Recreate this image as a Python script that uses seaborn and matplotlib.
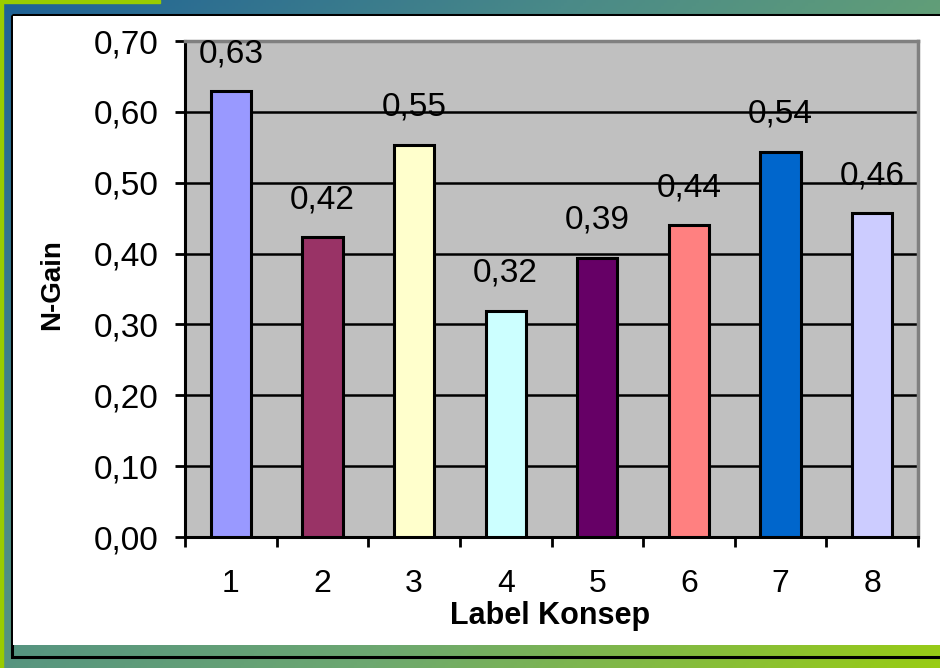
import numpy as np
import matplotlib
matplotlib.use("Agg")
import matplotlib.pyplot as plt
from matplotlib.colors import LinearSegmentedColormap
from matplotlib.patches import Rectangle
import seaborn as sns
import pandas as pd

# N-Gain per concept label
labels = ["1", "2", "3", "4", "5", "6", "7", "8"]
n_gain = [0.629, 0.423, 0.553, 0.319, 0.394, 0.440, 0.544, 0.457]
bar_colors = ["#9999FF", "#993366", "#FFFFCC", "#CCFFFF",
              "#660066", "#FF8080", "#0066CC", "#CCCCFF"]
y_ticks = [0.0, 0.1, 0.2, 0.3, 0.4, 0.5, 0.6, 0.7]

sns.set_theme(style="white")
plt.rcParams["font.family"] = ["Liberation Sans", "DejaVu Sans"]
plt.rcParams.update({"text.color": "black", "axes.labelcolor": "black",
                     "xtick.color": "black", "ytick.color": "black"})

W, H = 940, 668
fig = plt.figure(figsize=(W / 100, H / 100), dpi=100)

# slide background: diagonal blue -> lime gradient
bg = fig.add_axes([0, 0, 1, 1])
bg.set_xlim(0, W)
bg.set_ylim(H, 0)
bg.axis("off")
cmap = LinearSegmentedColormap.from_list(
    "slide", ["#1E6196", "#4A8A88", "#6DA870", "#99CC14"])
gx, gy = np.meshgrid(np.linspace(0, 1, 300), np.linspace(0, 1, 220))
grad = (gx * 0.55 + gy * 0.45)
bg.imshow(grad, cmap=cmap, extent=[0, W, H, 0], aspect="auto", zorder=0)
bg.add_patch(Rectangle((0, 0), 160, 3, color="#99CC00", zorder=1))
bg.add_patch(Rectangle((0, 0), 3, H, color="#99CC00", zorder=1))
# chart frame
bg.add_patch(Rectangle((12, 15), W + 10, 642, facecolor="none",
                       edgecolor="black", lw=2.2, zorder=2))
bg.add_patch(Rectangle((13, 16), W, 629, facecolor="white",
                       edgecolor="none", zorder=3))

ax = fig.add_axes([185 / W, 1 - 537 / H, 733 / W, 496 / H])
df = pd.DataFrame({"Label Konsep": labels, "N-Gain": n_gain})
sns.barplot(data=df, x="Label Konsep", y="N-Gain", hue="Label Konsep",
            palette=bar_colors, legend=False, width=0.44,
            edgecolor="black", linewidth=2.2, saturation=1, ax=ax, zorder=3)

ax.set_facecolor("#C0C0C0")
ax.set_xlim(-0.5, len(labels) - 0.5)
ax.set_ylim(0, 0.7)
ax.set_yticks(y_ticks)
ax.set_yticklabels([f"{v:.2f}".replace(".", ",") for v in y_ticks])
for v in y_ticks[1:-1]:
    ax.axhline(v, color="black", lw=1.8, zorder=1)

ax.set_xticks(range(len(labels)))
ax.set_xticklabels(labels)
ax.set_xticks(np.arange(-0.5, len(labels)), minor=True)
ax.tick_params(axis="x", which="major", length=0, pad=23, labelsize=23)
ax.tick_params(axis="x", which="minor", length=7, width=2, direction="out",
               color="black", bottom=True)
ax.tick_params(axis="y", length=7, width=2, direction="out", color="black",
               left=True, pad=12, labelsize=24)

for side in ["left", "bottom"]:
    ax.spines[side].set_color("black")
    ax.spines[side].set_linewidth(2.2)
for side in ["top", "right"]:
    ax.spines[side].set_color("#808080")
    ax.spines[side].set_linewidth(2.5)

for i, v in enumerate(n_gain):
    ax.annotate(f"{v:.2f}".replace(".", ","), (i, v), xytext=(0, 21),
                textcoords="offset points", ha="center", va="baseline",
                fontsize=24, color="black", zorder=5)

ax.set_xlabel("Label Konsep", fontsize=22, fontweight="bold")
ax.set_ylabel("N-Gain", fontsize=20, fontweight="bold")
ax.xaxis.label.set_va("center")
ax.yaxis.label.set_va("center")
ax.xaxis.set_label_coords(0.498, -0.16)
ax.yaxis.set_label_coords(-0.181, 0.508)

fig.savefig("out.png", dpi=100)
